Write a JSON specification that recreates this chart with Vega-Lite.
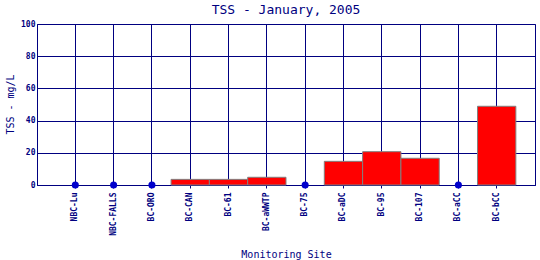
{
  "$schema": "https://vega.github.io/schema/vega-lite/v6.json",
  "autosize": "none",
  "width": 498,
  "height": 161,
  "padding": {"left": 37, "top": 24, "right": 5, "bottom": 75},
  "background": "white",
  "config": {
    "font": "DejaVu Sans Mono",
    "view": {"stroke": "#000080", "strokeWidth": 1}
  },
  "title": {
    "text": "TSS - January, 2005",
    "font": "DejaVu Sans Mono",
    "fontSize": 13,
    "fontWeight": "normal",
    "color": "#000080",
    "anchor": "middle",
    "frame": "group",
    "baseline": "alphabetic",
    "offset": 10,
    "dy": 17
  },
  "data": {
    "values": [
      {"site": "NBC-Lu", "tss": 0},
      {"site": "NBC-FALLS", "tss": 0},
      {"site": "BC-ORO", "tss": 0},
      {"site": "BC-CAN", "tss": 3.5},
      {"site": "BC-61", "tss": 3.5},
      {"site": "BC-aWWTP", "tss": 4.8},
      {"site": "BC-75", "tss": 0},
      {"site": "BC-aDC", "tss": 14.7},
      {"site": "BC-95", "tss": 20.7},
      {"site": "BC-107", "tss": 16.6},
      {"site": "BC-aCC", "tss": 0},
      {"site": "BC-bCC", "tss": 48.9}
    ]
  },
  "encoding": {
    "x": {
      "field": "site",
      "type": "nominal",
      "sort": ["NBC-Lu", "NBC-FALLS", "BC-ORO", "BC-CAN", "BC-61", "BC-aWWTP", "BC-75", "BC-aDC", "BC-95", "BC-107", "BC-aCC", "BC-bCC"],
      "scale": {"paddingInner": 0, "paddingOuter": 0.5},
      "axis": {
        "title": "Monitoring Site",
        "titleFont": "DejaVu Sans Mono",
        "titleFontSize": 10,
        "titleFontWeight": "normal",
        "titleColor": "#000080",
        "titleY": 72,
        "titleBaseline": "alphabetic",
        "labelAngle": -90,
        "labelFont": "DejaVu Sans Mono",
        "labelFontSize": 8,
        "labelFontWeight": "bold",
        "labelColor": "#000080",
        "labelPadding": 4,
        "bandPosition": 0.5,
        "grid": true,
        "gridColor": "#000080",
        "gridOpacity": 1,
        "gridWidth": 1,
        "domainColor": "#000080",
        "tickColor": "#000080",
        "tickSize": 3
      }
    },
    "y": {
      "field": "tss",
      "type": "quantitative",
      "scale": {"domain": [0, 100], "nice": false},
      "axis": {
        "title": "TSS - mg/L",
        "titleFont": "DejaVu Sans Mono",
        "titleFontSize": 10,
        "titleFontWeight": "normal",
        "titleColor": "#000080",
        "titleX": -27,
        "titleY": 80,
        "titleAngle": 270,
        "titleAlign": "center",
        "titleBaseline": "middle",
        "values": [0, 20, 40, 60, 80, 100],
        "labelFont": "DejaVu Sans Mono",
        "labelFontSize": 8,
        "labelFontWeight": "bold",
        "labelColor": "#000080",
        "labelPadding": 2,
        "ticks": false,
        "grid": true,
        "gridColor": "#000080",
        "gridOpacity": 1,
        "gridWidth": 1,
        "domainColor": "#000080"
      }
    }
  },
  "layer": [
    {
      "transform": [{"filter": "datum.tss > 0"}],
      "mark": {"type": "bar", "color": "#FF0000", "stroke": "#808080", "strokeWidth": 1, "width": {"band": 1}}
    },
    {
      "transform": [{"filter": "datum.tss == 0"}],
      "mark": {"type": "point", "shape": "circle", "filled": true, "color": "#0000CC", "size": 50, "opacity": 1}
    }
  ]
}
